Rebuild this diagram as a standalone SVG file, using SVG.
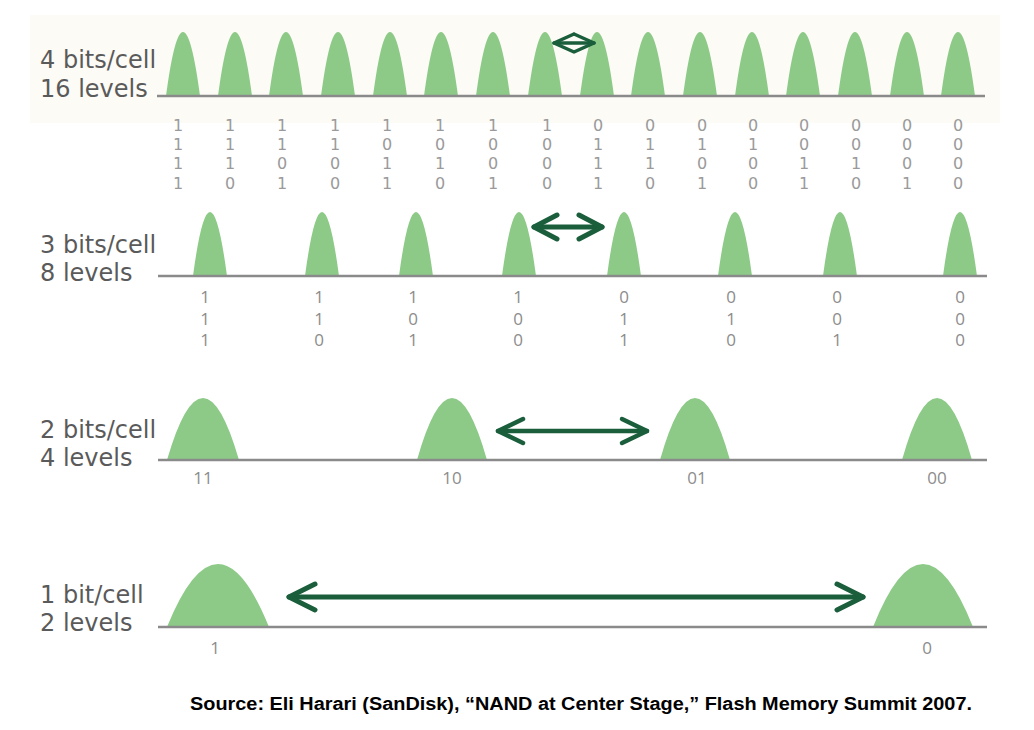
<svg xmlns="http://www.w3.org/2000/svg" width="1034" height="730" viewBox="0 0 1034 730">
<style>
.lbl{font-family:"DejaVu Sans",Verdana,sans-serif;font-size:24px;fill:#5a5a5a}
.bit{font-family:"Open Sans","DejaVu Sans",sans-serif;font-size:17px;fill:#8c8c8c;text-anchor:middle}
.bit4{font-family:"DejaVu Sans",sans-serif;font-size:16px;fill:#9a9a9a;text-anchor:middle}
.pk{fill:#8dca88}
.base{stroke:#8a8a8a;stroke-width:2.5;fill:none}
.arr{stroke:#1a5e3c;fill:none;stroke-linecap:round;stroke-linejoin:round}
.cap{font-family:"Liberation Sans",Arial,sans-serif;font-size:17.5px;font-weight:bold;fill:#000}
</style>
<rect width="1034" height="730" fill="#ffffff"/>
<rect x="30" y="15" width="970" height="108" fill="#fcfbf6"/>

<g id="row-4bit">
<text class="lbl" x="40" y="68">4 bits/cell</text>
<text class="lbl" x="40" y="97">16 levels</text>
<path class="pk" d="M166,96 Q183,-32 200,96Z M218,96 Q235,-32 252,96Z M269,96 Q286,-32 303,96Z M321,96 Q338,-32 355,96Z M373,96 Q390,-32 407,96Z M424,96 Q441,-32 458,96Z M476,96 Q493,-32 510,96Z M528,96 Q545,-32 562,96Z M580,96 Q597,-32 614,96Z M631,96 Q648,-32 665,96Z M683,96 Q700,-32 717,96Z M735,96 Q752,-32 769,96Z M786,96 Q803,-32 820,96Z M838,96 Q855,-32 872,96Z M890,96 Q907,-32 924,96Z M941,96 Q958,-32 975,96Z"/>
<line class="base" x1="157" y1="96" x2="985" y2="96"/>
<g class="bit4">
<text x="178" y="131"><tspan x="178">1</tspan><tspan x="178" dy="19.2">1</tspan><tspan x="178" dy="19.2">1</tspan><tspan x="178" dy="19.2">1</tspan></text>
<text x="230" y="131"><tspan x="230">1</tspan><tspan x="230" dy="19.2">1</tspan><tspan x="230" dy="19.2">1</tspan><tspan x="230" dy="19.2">0</tspan></text>
<text x="282" y="131"><tspan x="282">1</tspan><tspan x="282" dy="19.2">1</tspan><tspan x="282" dy="19.2">0</tspan><tspan x="282" dy="19.2">1</tspan></text>
<text x="335" y="131"><tspan x="335">1</tspan><tspan x="335" dy="19.2">1</tspan><tspan x="335" dy="19.2">0</tspan><tspan x="335" dy="19.2">0</tspan></text>
<text x="387" y="131"><tspan x="387">1</tspan><tspan x="387" dy="19.2">0</tspan><tspan x="387" dy="19.2">1</tspan><tspan x="387" dy="19.2">1</tspan></text>
<text x="440" y="131"><tspan x="440">1</tspan><tspan x="440" dy="19.2">0</tspan><tspan x="440" dy="19.2">1</tspan><tspan x="440" dy="19.2">0</tspan></text>
<text x="493" y="131"><tspan x="493">1</tspan><tspan x="493" dy="19.2">0</tspan><tspan x="493" dy="19.2">0</tspan><tspan x="493" dy="19.2">1</tspan></text>
<text x="547" y="131"><tspan x="547">1</tspan><tspan x="547" dy="19.2">0</tspan><tspan x="547" dy="19.2">0</tspan><tspan x="547" dy="19.2">0</tspan></text>
<text x="598" y="131"><tspan x="598">0</tspan><tspan x="598" dy="19.2">1</tspan><tspan x="598" dy="19.2">1</tspan><tspan x="598" dy="19.2">1</tspan></text>
<text x="650" y="131"><tspan x="650">0</tspan><tspan x="650" dy="19.2">1</tspan><tspan x="650" dy="19.2">1</tspan><tspan x="650" dy="19.2">0</tspan></text>
<text x="702" y="131"><tspan x="702">0</tspan><tspan x="702" dy="19.2">1</tspan><tspan x="702" dy="19.2">0</tspan><tspan x="702" dy="19.2">1</tspan></text>
<text x="753" y="131"><tspan x="753">0</tspan><tspan x="753" dy="19.2">1</tspan><tspan x="753" dy="19.2">0</tspan><tspan x="753" dy="19.2">0</tspan></text>
<text x="804" y="131"><tspan x="804">0</tspan><tspan x="804" dy="19.2">0</tspan><tspan x="804" dy="19.2">1</tspan><tspan x="804" dy="19.2">1</tspan></text>
<text x="856" y="131"><tspan x="856">0</tspan><tspan x="856" dy="19.2">0</tspan><tspan x="856" dy="19.2">1</tspan><tspan x="856" dy="19.2">0</tspan></text>
<text x="907" y="131"><tspan x="907">0</tspan><tspan x="907" dy="19.2">0</tspan><tspan x="907" dy="19.2">0</tspan><tspan x="907" dy="19.2">1</tspan></text>
<text x="958" y="131"><tspan x="958">0</tspan><tspan x="958" dy="19.2">0</tspan><tspan x="958" dy="19.2">0</tspan><tspan x="958" dy="19.2">0</tspan></text>
</g>
</g>

<g id="row-3bit">
<text class="lbl" x="40" y="253">3 bits/cell</text>
<text class="lbl" x="40" y="281">8 levels</text>
<path class="pk" d="M193,276 Q210,148 227,276Z M305,276 Q322,148 339,276Z M399,276 Q416,148 433,276Z M502,276 Q519,148 536,276Z M607,276 Q624,148 641,276Z M718,276 Q735,148 752,276Z M823,276 Q840,148 857,276Z M943,276 Q960,148 977,276Z"/>
<line class="base" x1="158" y1="276" x2="987" y2="276"/>
<g class="bit">
<text x="205" y="303"><tspan x="205">1</tspan><tspan x="205" dy="21.5">1</tspan><tspan x="205" dy="21.5">1</tspan></text>
<text x="319" y="303"><tspan x="319">1</tspan><tspan x="319" dy="21.5">1</tspan><tspan x="319" dy="21.5">0</tspan></text>
<text x="413" y="303"><tspan x="413">1</tspan><tspan x="413" dy="21.5">0</tspan><tspan x="413" dy="21.5">1</tspan></text>
<text x="518" y="303"><tspan x="518">1</tspan><tspan x="518" dy="21.5">0</tspan><tspan x="518" dy="21.5">0</tspan></text>
<text x="624" y="303"><tspan x="624">0</tspan><tspan x="624" dy="21.5">1</tspan><tspan x="624" dy="21.5">1</tspan></text>
<text x="731" y="303"><tspan x="731">0</tspan><tspan x="731" dy="21.5">1</tspan><tspan x="731" dy="21.5">0</tspan></text>
<text x="837" y="303"><tspan x="837">0</tspan><tspan x="837" dy="21.5">0</tspan><tspan x="837" dy="21.5">1</tspan></text>
<text x="960" y="303"><tspan x="960">0</tspan><tspan x="960" dy="21.5">0</tspan><tspan x="960" dy="21.5">0</tspan></text>
</g>
</g>

<g id="row-2bit">
<text class="lbl" x="40" y="438">2 bits/cell</text>
<text class="lbl" x="40" y="466">4 levels</text>
<path class="pk" d="M167,460 Q203,336 239,460Z M417,460 Q452,336 487,460Z M660,460 Q695,336 730,460Z M902,460 Q937,336 972,460Z"/>
<line class="base" x1="158" y1="460" x2="987" y2="460"/>
<g class="bit">
<text x="203" y="484">11</text>
<text x="452" y="484">10</text>
<text x="697" y="484">01</text>
<text x="937" y="484">00</text>
</g>
</g>

<g id="row-1bit">
<text class="lbl" x="40" y="603">1 bit/cell</text>
<text class="lbl" x="40" y="631">2 levels</text>
<path class="pk" d="M167,627 Q218,501 269,627Z M873,627 Q923,501 973,627Z"/>
<line class="base" x1="158" y1="627" x2="987" y2="627"/>
<g class="bit">
<text x="215" y="654">1</text>
<text x="927" y="654">0</text>
</g>
</g>

<g id="connectors">
<g class="arr" stroke-width="3.5">
<line x1="554" y1="43" x2="594" y2="43"/>
<polyline points="574,34 554,43 574,52 594,43 574,34"/>
</g>
<g class="arr" stroke-width="5">
<line x1="534" y1="227" x2="602" y2="227"/>
<polyline points="557,215 534,227 557,239"/>
<polyline points="579,215 602,227 579,239"/>
</g>
<g class="arr" stroke-width="4.5">
<line x1="498" y1="431" x2="647" y2="431"/>
<polyline points="523,419 498,431 523,443"/>
<polyline points="622,419 647,431 622,443"/>
</g>
<g class="arr" stroke-width="5">
<line x1="289" y1="597" x2="863" y2="597"/>
<polyline points="315,584 289,597 315,610"/>
<polyline points="837,584 863,597 837,610"/>
</g>
</g>

<g id="caption">
<text class="cap" x="190" y="710" textLength="782" lengthAdjust="spacingAndGlyphs">Source: Eli Harari (SanDisk), “NAND at Center Stage,” Flash Memory Summit 2007.</text>
</g>
</svg>
